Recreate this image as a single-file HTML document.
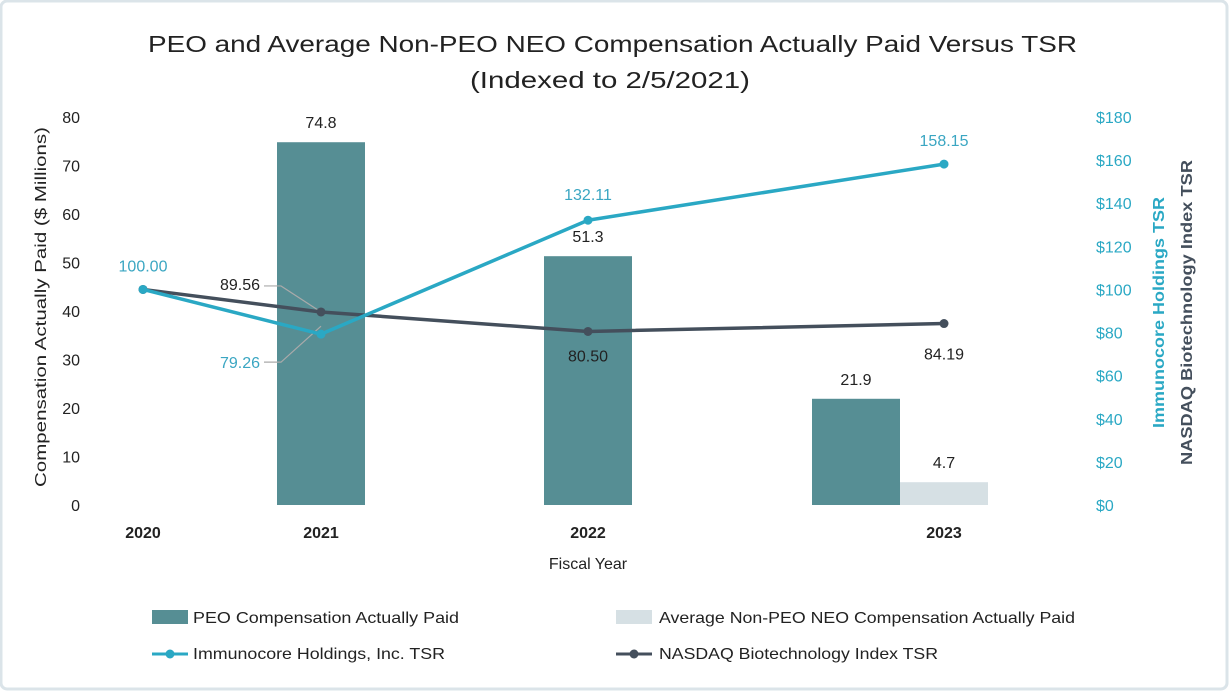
<!DOCTYPE html>
<html><head><meta charset="utf-8"><style>
html,body{margin:0;padding:0;background:#fff;}
svg{display:block;font-family:"Liberation Sans",sans-serif;}
</style></head><body>
<svg id="chart" width="1230" height="692">
<rect x="1" y="1" width="1226" height="688" rx="6" fill="#fff" stroke="#dbe4e9" stroke-width="3"/>
<text x="148" y="52" font-size="23" textLength="929" lengthAdjust="spacingAndGlyphs" fill="#222">PEO and Average Non-PEO NEO Compensation Actually Paid Versus TSR</text>
<text x="470" y="88" font-size="23" textLength="280" lengthAdjust="spacingAndGlyphs" fill="#222">(Indexed to 2/5/2021)</text>
<g id="plot"></g>
<text transform="translate(46,487) rotate(-90)" font-size="16" textLength="360" lengthAdjust="spacingAndGlyphs" fill="#222">Compensation Actually Paid ($ Millions)</text>
<text transform="translate(1164,428) rotate(-90)" font-size="16" font-weight="bold" textLength="231" lengthAdjust="spacingAndGlyphs" fill="#2aa8c4">Immunocore Holdings TSR</text>
<text transform="translate(1192,465) rotate(-90)" font-size="16" font-weight="bold" textLength="305" lengthAdjust="spacingAndGlyphs" fill="#444f5c">NASDAQ Biotechnology Index TSR</text>
<text x="588" y="569" font-size="16" text-anchor="middle" fill="#222">Fiscal Year</text>
<g>
<g><rect x="152" y="610" width="36" height="14" fill="#568e94"/><text x="193" y="623" font-size="16" textLength="266" lengthAdjust="spacingAndGlyphs" fill="#222">PEO Compensation Actually Paid</text></g>
<g><rect x="616" y="610" width="36" height="14" fill="#d6e0e4"/><text x="659" y="623" font-size="16" textLength="416" lengthAdjust="spacingAndGlyphs" fill="#222">Average Non-PEO NEO Compensation Actually Paid</text></g>
<g><line x1="152" y1="654" x2="188" y2="654" stroke="#2aa8c4" stroke-width="3"/><circle cx="170" cy="654" r="4.5" fill="#2aa8c4"/><text x="193" y="659" font-size="16" textLength="252" lengthAdjust="spacingAndGlyphs" fill="#222">Immunocore Holdings, Inc. TSR</text></g>
<g><line x1="616" y1="654" x2="652" y2="654" stroke="#444f5c" stroke-width="3"/><circle cx="634" cy="654" r="4.5" fill="#444f5c"/><text x="659" y="659" font-size="16" textLength="279" lengthAdjust="spacingAndGlyphs" fill="#222">NASDAQ Biotechnology Index TSR</text></g>
</g>
</svg>
<script>
const categories = ["2020","2021","2022","2023"];
const peoComp = [null, 74.8, 51.3, 21.9];
const nonPeoComp = [null, null, null, 4.7];
const immunocoreTSR = [100.00, 79.26, 132.11, 158.15];
const nasdaqTSR = [100.00, 89.56, 80.50, 84.19];
const leftTicks = [0,10,20,30,40,50,60,70,80];
const rightTicks = [0,20,40,60,80,100,120,140,160,180];

const catX = [143, 321, 588, 944];
const barW = 88;
const y0 = 505, yTop = 117;
const yL = v => y0 - v/80*(y0-yTop);
const yR = v => y0 - v/180*(y0-yTop);
const NS = "http://www.w3.org/2000/svg";
const plot = document.getElementById('plot');
function mk(tag, attrs, text){
  const e = document.createElementNS(NS, tag);
  for (const k in attrs) e.setAttribute(k, attrs[k]);
  if (text !== undefined) e.textContent = text;
  plot.appendChild(e);
  return e;
}
leftTicks.forEach(t=>{
  const e = mk('text',{x:80,y:yL(t)+6,'font-size':16,'text-anchor':'end',fill:'#222'},String(t));
  
  
});
rightTicks.forEach(t=>{
  const e = mk('text',{x:1096,y:yR(t)+6,'font-size':16,fill:'#2aa8c4'},'$'+t);
  
  
});
categories.forEach((c,i)=>{
  const e = mk('text',{x:catX[i],y:538,'font-size':16,'font-weight':'bold','text-anchor':'middle',fill:'#222'},c);
  
  
});
categories.forEach((c,i)=>{
  const hasNon = nonPeoComp[i] != null;
  if (peoComp[i] != null){
    const cx = hasNon ? catX[i]-barW : catX[i];
    const r = mk('rect',{x:cx-barW/2,y:yL(peoComp[i]),width:barW,height:y0-yL(peoComp[i]),fill:'#568e94'});
    
    
    const l = mk('text',{x:cx,y:yL(peoComp[i])-14,'font-size':16,'text-anchor':'middle',fill:'#222'},peoComp[i].toFixed(1));
    
    
  }
  if (hasNon){
    const cx = catX[i];
    const r = mk('rect',{x:cx-barW/2,y:yL(nonPeoComp[i]),width:barW,height:y0-yL(nonPeoComp[i]),fill:'#d6e0e4'});
    
    
    const l = mk('text',{x:cx,y:yL(nonPeoComp[i])-14,'font-size':16,'text-anchor':'middle',fill:'#222'},nonPeoComp[i].toFixed(1));
    
    
  }
});
const ll1 = mk('polyline',{points:`${catX[1]-57},${yR(immunocoreTSR[1])+28} ${catX[1]-40},${yR(immunocoreTSR[1])+28} ${catX[1]},${yR(immunocoreTSR[1])-8}`,fill:'none',stroke:'#aaa','stroke-width':1.2});


const ll2 = mk('polyline',{points:`${catX[1]-57},${yR(nasdaqTSR[1])-26} ${catX[1]-40},${yR(nasdaqTSR[1])-26} ${catX[1]},${yR(nasdaqTSR[1])}`,fill:'none',stroke:'#aaa','stroke-width':1.2});



function series(vals,color,name,labelOff){
  const pts = vals.map((v,i)=>catX[i]+','+yR(v)).join(' ');
  const pl = mk('polyline',{points:pts,fill:'none',stroke:color,'stroke-width':3.5});
  
  
  vals.forEach((v,i)=>{
    const c = mk('circle',{cx:catX[i],cy:yR(v),r:4.5,fill:color});
    
    
    const o = labelOff[i];
    const t = mk('text',{x:catX[i]+o[0],y:yR(v)+o[1],'font-size':16,'text-anchor':o[2]||'middle',fill:o[3]},v.toFixed(2));
    
    
  });
}
series(nasdaqTSR,'#444f5c','nasdaq',[[0,0,'middle','transparent'],[-61,-22,'end','#222'],[0,30,'middle','#222'],[0,36,'middle','#222']]);
series(immunocoreTSR,'#2aa8c4','immunocore',[[0,-18,'middle','#3aa6c2'],[-61,34,'end','#3aa6c2'],[0,-20,'middle','#3aa6c2'],[0,-18,'middle','#3aa6c2']]);
</script>
</body></html>
